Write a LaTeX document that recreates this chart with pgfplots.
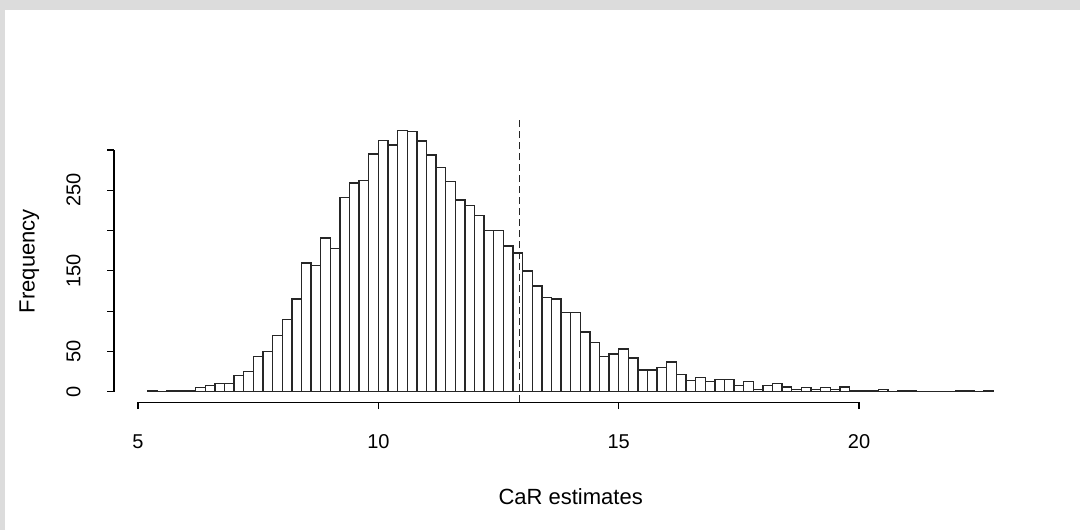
\documentclass[border=0pt]{standalone}
\usepackage{fontspec}
\setmainfont{Liberation Sans}
\usepackage{pgfplots}
\pgfplotsset{compat=1.18}
\definecolor{frame}{HTML}{DCDCDC}
\definecolor{barline}{HTML}{262626}

\begin{document}
\begin{tikzpicture}[x=1bp,y=1bp]
\fill[frame] (0,0) rectangle (1080,530);
\fill[white] (5,0) rectangle (1080,520);
\useasboundingbox (0,0) rectangle (1080,530);
\begin{axis}[
  at={(114bp,127.8bp)}, anchor=south west,
  scale only axis, width=913.3bp, height=282bp,
  xmin=4.5, xmax=23.5, ymin=-13, ymax=337,
  clip=false,
  axis x line*=bottom, axis y line*=left,
  axis line style={draw=none},
  tick align=outside,
  major tick length=7bp,
  tick style={black, line width=1.2bp},
  xtick={5,10,15,20},
  ytick={0,50,100,150,200,250,300},
  yticklabels={0,50,,150,,250,},
  /pgf/number format/assume math mode=true,
  tick label style={font=\fontsize{20bp}{24bp}\selectfont},
  xticklabel shift=22bp,
  yticklabel style={rotate=90, anchor=south},
  yticklabel shift=23bp,
  xlabel={CaR estimates},
  label style={font=\fontsize{22bp}{26bp}\selectfont},
  xlabel style={at={(axis description cs:0.5,-0.362)}, anchor=base},
  ylabel={Frequency},
  ylabel style={at={(axis description cs:-0.087,0.5)}, anchor=base},
]
\addplot[ybar interval, fill=white, draw=barline, line width=1.4bp]
  coordinates {
  (5.2,1) (5.4,0) (5.6,1) (5.8,1) (6.0,1) (6.2,5) (6.4,8) (6.6,10) (6.8,10)
  (7.0,20) (7.2,25) (7.4,44) (7.6,50) (7.8,70) (8.0,90) (8.2,115) (8.4,160)
  (8.6,157) (8.8,191) (9.0,178) (9.2,241) (9.4,259) (9.6,262) (9.8,295)
  (10.0,312) (10.2,306) (10.4,324) (10.6,323) (10.8,311) (11.0,294) (11.2,278)
  (11.4,261) (11.6,238) (11.8,231) (12.0,219) (12.2,200) (12.4,200) (12.6,181)
  (12.8,172) (13.0,150) (13.2,131) (13.4,117) (13.6,115) (13.8,98) (14.0,98)
  (14.2,74) (14.4,61) (14.6,44) (14.8,47) (15.0,53) (15.2,42) (15.4,27)
  (15.6,27) (15.8,30) (16.0,37) (16.2,21) (16.4,14) (16.6,18) (16.8,13)
  (17.0,15) (17.2,15) (17.4,8) (17.6,13) (17.8,3) (18.0,8) (18.2,10) (18.4,6)
  (18.6,3) (18.8,5) (19.0,3) (19.2,5) (19.4,3) (19.6,6) (19.8,1) (20.0,1)
  (20.2,1) (20.4,3) (20.6,0) (20.8,1) (21.0,1) (21.2,0) (21.4,0) (21.6,0)
  (21.8,0) (22.0,1) (22.2,1) (22.4,0) (22.6,1) (22.8,0)
  };
\draw[black, line width=1.2bp] (axis cs:5,-13) -- (axis cs:20,-13);
\draw[black, line width=1.2bp] (axis cs:4.5,0) -- (axis cs:4.5,300);
\draw[black!85, line width=1.3bp, dash pattern=on 7bp off 4bp]
  (axis cs:12.94,-13) -- (axis cs:12.94,337);
\end{axis}
\end{tikzpicture}
\end{document}
